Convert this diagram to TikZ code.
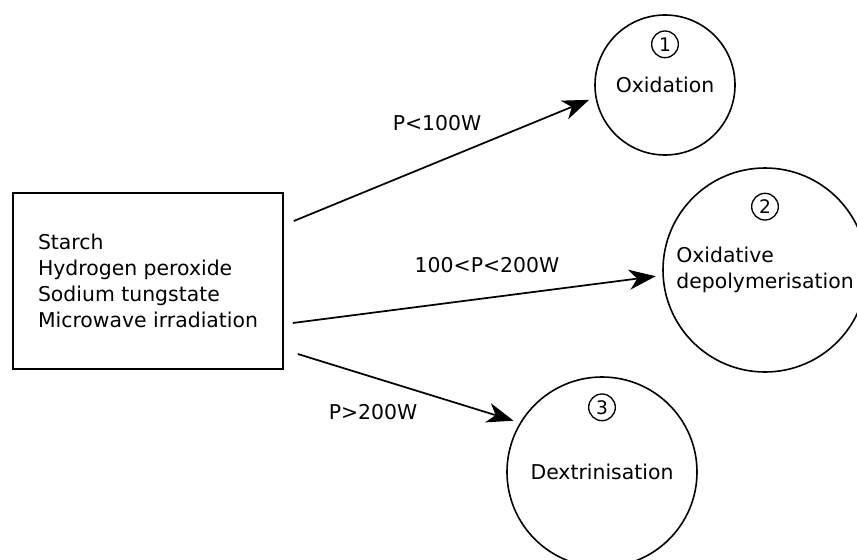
\documentclass[tikz,border=0pt]{standalone}
\usepackage{fontspec}
\setmainfont{DejaVu Sans}
\usetikzlibrary{arrows.meta,positioning,calc}

\begin{document}
\begin{tikzpicture}[
    x=0.75pt,
    y=-0.75pt,
    src/.style={
        rectangle,
        draw=black,
        line width=1.2pt,
        align=left,
        font=\fontsize{15.3}{19.5}\selectfont,
        minimum width=202.5pt,
        minimum height=132pt
    },
    stage/.style={
        circle,
        draw=black,
        line width=1.2pt,
        align=left,
        font=\fontsize{15.3}{19.5}\selectfont
    },
    num/.style={
        circle,
        draw=black,
        line width=1pt,
        inner sep=0pt,
        minimum size=20pt,
        font=\fontsize{14}{16}\selectfont
    },
    cond/.style={
        font=\fontsize{15.3}{19.5}\selectfont
    },
    arrow/.style={-{Stealth[length=20pt,width=15pt,inset=6pt]}, line width=1.3pt, shorten >=5pt}
]

\useasboundingbox (0,0) rectangle (857,560);

\node[src] (box) at (148,281) {Starch\\Hydrogen peroxide\\Sodium tungstate\\Microwave irradiation};

\node[stage, minimum size=105pt] (c1) at (665,85) {Oxidation};
\node[stage, minimum size=153pt] (c2) at (765,270) {Oxidative\\depolymerisation};
\node[stage, minimum size=142.5pt] (c3) at (602,472) {Dextrinisation};

\node[num, above=20pt of c1.center] (n1) {1};
\node[num, above=37pt of c2.center] (n2) {2};
\node[num, above=38pt of c3.center] (n3) {3};

\coordinate (s1) at ($(box.east)+(10,-60)$);
\coordinate (s2) at ($(box.east)+(9,42)$);
\coordinate (s3) at ($(box.east)+(14,73)$);

\draw[arrow] (s1) -- (c1.190);
\draw[arrow] (s2) -- (c2.183);
\draw[arrow] (s3) -- (c3.149);

\node[cond] (l1) at (437,123) {P<100W};
\node[cond] (l2) at (487,265) {100<P<200W};
\node[cond] (l3) at (373,412) {P>200W};

\end{tikzpicture}
\end{document}
